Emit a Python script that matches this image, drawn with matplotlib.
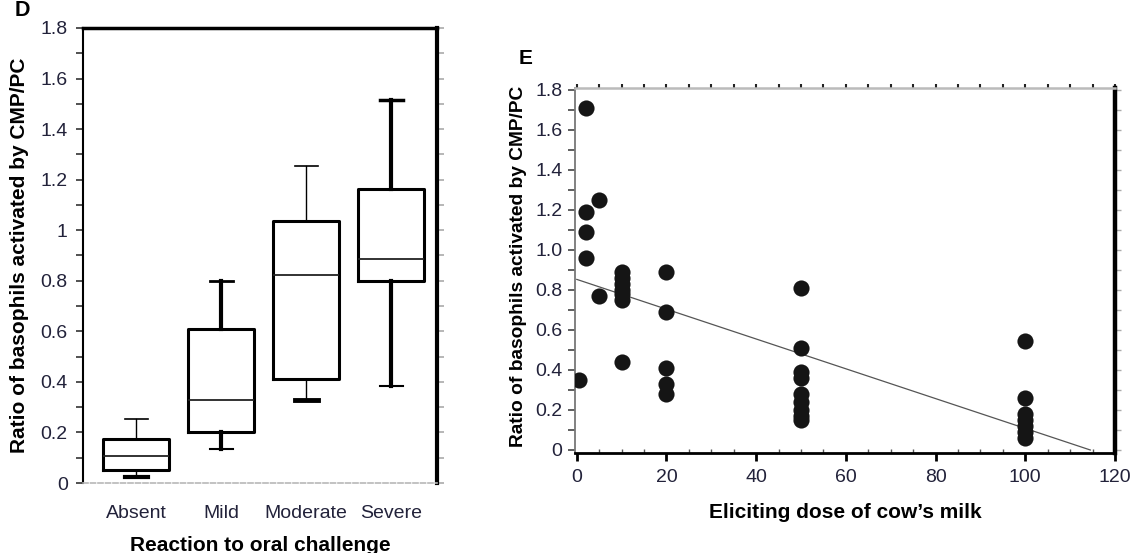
import matplotlib
matplotlib.use("Agg")
import matplotlib.pyplot as plt
from matplotlib.ticker import MultipleLocator, NullFormatter
import numpy as np

plt.rcParams['font.family'] = ['Liberation Sans', 'DejaVu Sans']

# ---------------- Panel D data (box plots) ----------------
categories = ['Absent', 'Mild', 'Moderate', 'Severe']
whisker_low = [0.025, 0.133, 0.327, 0.385]
q1 = [0.053, 0.200, 0.412, 0.800]
median = [0.107, 0.329, 0.824, 0.886]
q3 = [0.173, 0.609, 1.038, 1.164]
whisker_high = [0.252, 0.800, 1.253, 1.514]
d_yticks = [0, 0.2, 0.4, 0.6, 0.8, 1.0, 1.2, 1.4, 1.6, 1.8]
d_yticklabels = ['0', '0.2', '0.4', '0.6', '0.8', '1', '1.2', '1.4', '1.6', '1.8']

# ---------------- Panel E data (scatter) ----------------
dose = [2, 2, 2, 2, 5, 5, 0.5,
        10, 10, 10, 10, 10, 10, 10,
        20, 20, 20, 20, 20,
        50, 50, 50, 50, 50, 50, 50, 50, 50,
        100, 100, 100, 100, 100, 100, 100]
ratio = [1.71, 1.19, 1.09, 0.96, 1.25, 0.77, 0.35,
         0.89, 0.86, 0.83, 0.80, 0.78, 0.75, 0.44,
         0.89, 0.69, 0.41, 0.33, 0.28,
         0.81, 0.51, 0.39, 0.36, 0.28, 0.24, 0.20, 0.17, 0.15,
         0.545, 0.26, 0.18, 0.15, 0.12, 0.09, 0.06]
fit_x = [0, 114.5]
fit_intercept = 0.853
fit_slope = -0.00745
e_xticks = [0, 20, 40, 60, 80, 100, 120]
e_yticks = [0, 0.2, 0.4, 0.6, 0.8, 1.0, 1.2, 1.4, 1.6, 1.8]
e_yticklabels = ['0', '0.2', '0.4', '0.6', '0.8', '1.0', '1.2', '1.4', '1.6', '1.8']

tick_color = '#22223a'
W, H = 1135, 553
fig = plt.figure(figsize=(W / 100, H / 100), dpi=100)

# ======================= Panel D =======================
axD = fig.add_axes([83 / W, 1 - 483 / H, 354 / W, 455 / H])
positions = np.arange(1, len(categories) + 1)
stats = []
for i, c in enumerate(categories):
    stats.append(dict(label=c, whislo=whisker_low[i], q1=q1[i], med=median[i],
                      q3=q3[i], whishi=whisker_high[i], fliers=[]))
res = axD.bxp(stats, positions=positions, widths=0.78, capwidths=0.27,
              showfliers=False, patch_artist=False,
              boxprops=dict(color='black', linewidth=2.2),
              medianprops=dict(color='#222222', linewidth=1.3),
              whiskerprops=dict(color='black', linewidth=1.0),
              capprops=dict(color='black', linewidth=1.0))
# per-box whisker / cap thickness (lower, upper)
whisker_lw = [(1.0, 1.0), (3.0, 3.0), (1.0, 1.0), (3.0, 3.0)]
cap_lw = [(3.0, 1.2), (1.5, 2.0), (3.5, 1.2), (1.5, 2.5)]
for i in range(len(categories)):
    res['whiskers'][2 * i].set_linewidth(whisker_lw[i][0])
    res['whiskers'][2 * i + 1].set_linewidth(whisker_lw[i][1])
    res['caps'][2 * i].set_linewidth(cap_lw[i][0])
    res['caps'][2 * i + 1].set_linewidth(cap_lw[i][1])

axD.set_xlim(0.375, 4.54)
axD.set_ylim(0, 1.8)
axD.set_yticks(d_yticks)
axD.set_yticklabels(d_yticklabels)
axD.yaxis.set_minor_locator(MultipleLocator(0.1))
axD.tick_params(axis='y', which='both', direction='out', length=5, width=1.2,
                color='#333333', labelsize=14, labelcolor=tick_color, pad=6)
axD.set_xticks(positions)
axD.set_xticklabels(categories)
axD.tick_params(axis='x', length=0, labelsize=14, labelcolor=tick_color, pad=16)
for s, lw, col in [('left', 1.5, 'black'), ('top', 2.5, 'black'), ('right', 3.0, 'black')]:
    axD.spines[s].set_linewidth(lw)
    axD.spines[s].set_color(col)
axD.spines['bottom'].set_color('#b8b8b8')
axD.spines['bottom'].set_linewidth(1.2)
axD.spines['bottom'].set_linestyle((0, (3, 1.5)))
secD = axD.secondary_yaxis('right')
secD.yaxis.set_major_locator(MultipleLocator(0.1))
secD.yaxis.set_major_formatter(NullFormatter())
secD.tick_params(direction='out', length=5, width=1.2, color='#aaaaaa')
secD.spines['right'].set_visible(False)
axD.set_xlabel('Reaction to oral challenge', fontsize=15, fontweight='bold', labelpad=10)
axD.set_ylabel('Ratio of basophils activated by CMP/PC', fontsize=15,
               fontweight='bold', labelpad=8)
fig.text(22 / W, 1 - 11 / H, 'D', fontsize=15.5, fontweight='bold', ha='center', va='center')

# ======================= Panel E =======================
axE = fig.add_axes([575 / W, 1 - 452.7 / H, 540 / W, 364.4 / H])
axE.scatter(dose, ratio, s=135, color='#151515', zorder=3, linewidths=0)
fit_y = [fit_intercept + fit_slope * x for x in fit_x]
axE.plot(fit_x, fit_y, color='#555555', linewidth=0.9, zorder=2)
axE.set_xlim(-0.4, 120)
axE.set_ylim(-0.0135, 1.8085)
axE.set_xticks(e_xticks)
axE.set_yticks(e_yticks)
axE.set_yticklabels(e_yticklabels)
axE.xaxis.set_minor_locator(MultipleLocator(5))
axE.yaxis.set_minor_locator(MultipleLocator(0.1))
axE.tick_params(axis='x', which='major', direction='out', length=6, width=2,
                color='black', labelsize=14, labelcolor=tick_color, pad=6)
axE.tick_params(axis='x', which='minor', direction='in', length=3, width=1, color='#555555')
axE.tick_params(axis='y', which='both', direction='out', length=5, width=1.2,
                color='#444444', labelsize=14, labelcolor=tick_color, pad=4)
axE.spines['left'].set_color('#777777')
axE.spines['left'].set_linewidth(1.3)
axE.spines['top'].set_color('#bbbbbb')
axE.spines['top'].set_linewidth(1.8)
axE.spines['right'].set_color('black')
axE.spines['right'].set_linewidth(3.2)
axE.spines['bottom'].set_color('black')
axE.spines['bottom'].set_linewidth(2.0)
secEt = axE.secondary_xaxis('top')
secEt.xaxis.set_major_locator(MultipleLocator(5))
secEt.xaxis.set_major_formatter(NullFormatter())
secEt.tick_params(direction='out', length=3, width=1.5, color='#222222')
secEt.spines['top'].set_visible(False)
secEr = axE.secondary_yaxis('right')
secEr.yaxis.set_major_locator(MultipleLocator(0.1))
secEr.yaxis.set_major_formatter(NullFormatter())
secEr.tick_params(direction='out', length=4, width=1.0, color='#aaaaaa')
secEr.spines['right'].set_visible(False)
axE.set_xlabel('Eliciting dose of cow\u2019s milk', fontsize=15, fontweight='bold', labelpad=12)
axE.set_ylabel('Ratio of basophils activated by CMP/PC', fontsize=13.8,
               fontweight='bold')
axE.yaxis.set_label_coords(-0.088, 0.51)
fig.text(526 / W, 1 - 59 / H, 'E', fontsize=15, fontweight='bold', ha='center', va='center')

fig.savefig('out.png', dpi=100)
